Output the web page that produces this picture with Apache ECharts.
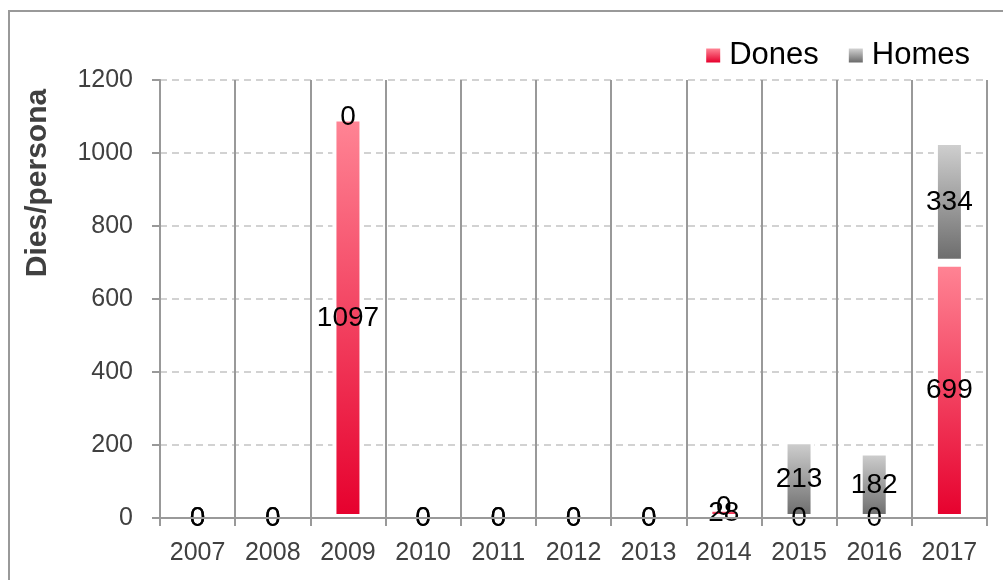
<!DOCTYPE html>
<html>
<head>
<meta charset="utf-8">
<script src="https://cdn.jsdelivr.net/npm/echarts@6/dist/echarts.min.js"></script>
<style>
html,body{margin:0;padding:0;background:#fff;}
#chart{width:1003px;height:580px;}
</style>
</head>
<body>
<div id="chart"></div>
<script>
var categories = ['2007','2008','2009','2010','2011','2012','2013','2014','2015','2016','2017'];
var dones = [0, 0, 1097, 0, 0, 0, 0, 28, 0, 0, 699];
var homes = [0, 0, 0, 0, 0, 0, 0, 0, 213, 182, 334];
var seriesNames = ['Dones', 'Homes'];
var yTitle = 'Dies/persona';

var FONT = '"Liberation Sans Narrow", "Liberation Sans", Arial, sans-serif';

function grad(top, bottom) {
  return new echarts.graphic.LinearGradient(0, 0, 0, 1, [
    {offset: 0, color: top}, {offset: 1, color: bottom}
  ]);
}
function toData(arr) {
  return arr.map(function (v) {
    return v === 0 ? {value: v, itemStyle: {borderWidth: 0}} : {value: v};
  });
}
var labelStyle = {
  show: true, position: 'inside', color: '#000',
  fontFamily: FONT, fontSize: 28
};

var chart = echarts.init(document.getElementById('chart'), null, {renderer: 'canvas'});
chart.setOption({
  animation: false,
  backgroundColor: '#fff',
  grid: {left: 160, right: 16, top: 80, bottom: 62, containLabel: false},
  legend: {
    data: seriesNames,
    right: 28, top: 35,
    icon: 'rect', itemWidth: 14, itemHeight: 14, itemGap: 30,
    itemStyle: {borderWidth: 0},
    textStyle: {fontFamily: FONT, fontSize: 31, color: '#000', padding: [0,0,0,4]}
  },
  xAxis: {
    type: 'category', data: categories, z: 3,
    axisLine: {lineStyle: {color: '#999', width: 2}},
    axisTick: {show: true, length: 8, lineStyle: {color: '#999', width: 2}},
    splitLine: {show: true, lineStyle: {color: '#999', width: 2}},
    axisLabel: {color: '#404040', fontFamily: FONT, fontSize: 25, margin: 23}
  },
  yAxis: {
    type: 'value', min: 0, max: 1200, interval: 200,
    axisLine: {show: true, lineStyle: {color: '#999', width: 2}},
    axisTick: {show: true, length: 8, lineStyle: {color: '#999', width: 2}},
    splitLine: {show: true, lineStyle: {color: '#c4c4c4', width: 1.5, type: [7, 5]}},
    axisLabel: {color: '#404040', fontFamily: FONT, fontSize: 25, margin: 27,
                formatter: function (v) { return String(v); }}
  },
  series: [
    {
      name: seriesNames[0], type: 'bar', stack: 'total', barWidth: 31,
      data: toData(dones),
      itemStyle: {color: grad('#ff8595', '#e6002d'), borderColor: '#fff', borderWidth: 4},
      label: labelStyle
    },
    {
      name: seriesNames[1], type: 'bar', stack: 'total', barWidth: 31,
      data: toData(homes),
      itemStyle: {color: grad('#d2d2d2', '#6a6a6a'), borderColor: '#fff', borderWidth: 4},
      label: labelStyle
    }
  ],
  graphic: [
    {type: 'rect', z: 100, silent: true,
     shape: {x: 9, y: 11, width: 1100, height: 700},
     style: {fill: null, stroke: '#999', lineWidth: 2}},
    {type: 'text', z: 100, x: 38, y: 183, rotation: Math.PI / 2,
     style: {text: yTitle, font: 'bold 30px "Liberation Sans"', fill: '#404040',
             textAlign: 'center', textVerticalAlign: 'middle'}}
  ]
});
</script>
</body>
</html>
